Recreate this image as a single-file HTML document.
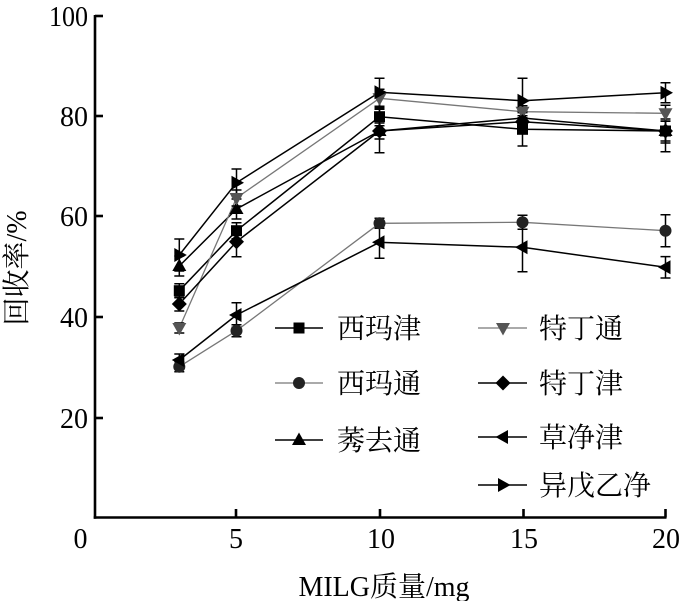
<!DOCTYPE html>
<html><head><meta charset="utf-8">
<style>
html,body{margin:0;padding:0;background:#fff;}
svg{display:block;}
text{font-family:"Liberation Serif","Noto Serif CJK SC",serif;fill:#000;}
</style></head>
<body>
<svg width="700" height="601" viewBox="0 0 700 601" xmlns="http://www.w3.org/2000/svg">
<defs>
<g id="sq"><rect x="-5.5" y="-5.5" width="11" height="11" fill="#000"/></g>
<g id="ci"><circle r="6" fill="#222"/></g>
<g id="tu"><polygon points="0,-7.5 7,5 -7,5" fill="#000"/></g>
<g id="td"><polygon points="0,7.5 7,-5 -7,-5" fill="#555"/></g>
<g id="di"><polygon points="0,-7.5 7.5,0 0,7.5 -7.5,0" fill="#000"/></g>
<g id="tl"><polygon points="-7.5,0 5,-7 5,7" fill="#000"/></g>
<g id="tr"><polygon points="7.5,0 -5,-7 -5,7" fill="#000"/></g>
</defs>

<!-- axes -->
<g stroke="#000" stroke-width="2.6" fill="none">
<line x1="95" y1="15" x2="95" y2="518.8"/>
<line x1="93.7" y1="517.5" x2="666.5" y2="517.5"/>
<line x1="95" y1="16" x2="103" y2="16"/>
<line x1="95" y1="116" x2="103" y2="116"/>
<line x1="95" y1="216" x2="103" y2="216"/>
<line x1="95" y1="317" x2="103" y2="317"/>
<line x1="95" y1="418" x2="103" y2="418"/>
<line x1="236" y1="517.5" x2="236" y2="509"/>
<line x1="380" y1="517.5" x2="380" y2="509"/>
<line x1="523.5" y1="517.5" x2="523.5" y2="509"/>
<line x1="665.5" y1="517.5" x2="665.5" y2="509"/>
</g>

<!-- y tick labels -->
<g font-size="28" text-anchor="end">
<text x="88" y="26" textLength="39" lengthAdjust="spacingAndGlyphs">100</text>
<text x="88" y="126">80</text>
<text x="88" y="226">60</text>
<text x="88" y="327">40</text>
<text x="88" y="428">20</text>
</g>
<!-- x tick labels -->
<g font-size="28" text-anchor="middle">
<text x="80.5" y="548">0</text>
<text x="236" y="548">5</text>
<text x="381" y="548">10</text>
<text x="524" y="548">15</text>
<text x="666" y="548">20</text>
</g>
<text x="384" y="596" font-size="28" text-anchor="middle">MILG质量/mg</text>
<text transform="translate(26,268) rotate(-90)" font-size="28" text-anchor="middle">回收率/%</text>

<!-- series lines -->
<g fill="none" stroke-linejoin="round">
<polyline stroke="#000" stroke-width="1.5" points="179.3,290.7 236.5,230.7 379.5,116.7 522.5,129.3 665.5,131"/>
<polyline stroke="#777" stroke-width="1.3" points="179.3,366.7 236.5,330.7 379.5,223.3 522.5,222.3 665.5,230.7"/>
<polyline stroke="#000" stroke-width="1.5" points="179.3,266 236.5,209 379.5,131 522.5,118 665.5,131"/>
<polyline stroke="#777" stroke-width="1.3" points="179.3,328 236.5,198 379.5,98.3 522.5,111.7 665.5,113.3"/>
<polyline stroke="#000" stroke-width="1.5" points="179.3,304 236.5,241.7 379.5,131 522.5,121.7 665.5,131"/>
<polyline stroke="#000" stroke-width="1.5" points="179.3,360 236.5,315 379.5,242.3 522.5,247.3 665.5,267.3"/>
<polyline stroke="#000" stroke-width="1.5" points="179.3,255 236.5,182.7 379.5,92.3 522.5,100.7 665.5,92.7"/>
</g>

<!-- error bars -->
<g stroke="#000" stroke-width="1.5" fill="none">
<path d="M179.3,283.7V297.7M174.3,283.7h10M174.3,297.7h10"/>
<path d="M179.3,361.7V371.7M174.3,361.7h10M174.3,371.7h10"/>
<path d="M179.3,256V276M174.3,256h10M174.3,276h10"/>
<path d="M179.3,323V333M174.3,323h10M174.3,333h10"/>
<path d="M179.3,297V311M174.3,297h10M174.3,311h10"/>
<path d="M179.3,354V366M174.3,354h10M174.3,366h10"/>
<path d="M179.3,239V271M174.3,239h10M174.3,271h10"/>
<path d="M236.5,222.7V238.7M231.5,222.7h10M231.5,238.7h10"/>
<path d="M236.5,324.7V336.7M231.5,324.7h10M231.5,336.7h10"/>
<path d="M236.5,199V219M231.5,199h10M231.5,219h10"/>
<path d="M236.5,190V206M231.5,190h10M231.5,206h10"/>
<path d="M236.5,226.7V256.7M231.5,226.7h10M231.5,256.7h10"/>
<path d="M236.5,302.7V327.3M231.5,302.7h10M231.5,327.3h10"/>
<path d="M236.5,169V196.4M231.5,169h10M231.5,196.4h10"/>
<path d="M379.5,107.7V125.7M374.5,107.7h10M374.5,125.7h10"/>
<path d="M379.5,218.3V228.3M374.5,218.3h10M374.5,228.3h10"/>
<path d="M379.5,123V139M374.5,123h10M374.5,139h10"/>
<path d="M379.5,89.3V107.3M374.5,89.3h10M374.5,107.3h10"/>
<path d="M379.5,109.3V152.7M374.5,109.3h10M374.5,152.7h10"/>
<path d="M379.5,226.3V258.3M374.5,226.3h10M374.5,258.3h10"/>
<path d="M379.5,78.3V106.3M374.5,78.3h10M374.5,106.3h10"/>
<path d="M522.5,112.6V146M517.5,112.6h10M517.5,146h10"/>
<path d="M522.5,215.3V229.3M517.5,215.3h10M517.5,229.3h10"/>
<path d="M522.5,111V125M517.5,111h10M517.5,125h10"/>
<path d="M522.5,105.7V117.7M517.5,105.7h10M517.5,117.7h10"/>
<path d="M522.5,115.7V127.7M517.5,115.7h10M517.5,127.7h10"/>
<path d="M522.5,222.9V271.7M517.5,222.9h10M517.5,271.7h10"/>
<path d="M522.5,78.3V123.1M517.5,78.3h10M517.5,123.1h10"/>
<path d="M665.5,119V143M660.5,119h10M660.5,143h10"/>
<path d="M665.5,214.7V246.7M660.5,214.7h10M660.5,246.7h10"/>
<path d="M665.5,121V141M660.5,121h10M660.5,141h10"/>
<path d="M665.5,105.3V121.3M660.5,105.3h10M660.5,121.3h10"/>
<path d="M665.5,110.3V151.7M660.5,110.3h10M660.5,151.7h10"/>
<path d="M665.5,256.6V278M660.5,256.6h10M660.5,278h10"/>
<path d="M665.5,82.7V102.7M660.5,82.7h10M660.5,102.7h10"/>
</g>

<!-- markers -->
<use href="#sq" x="179.3" y="290.7"/><use href="#sq" x="236.5" y="230.7"/><use href="#sq" x="379.5" y="116.7"/><use href="#sq" x="522.5" y="129.3"/><use href="#sq" x="665.5" y="131"/>
<use href="#ci" x="179.3" y="366.7"/><use href="#ci" x="236.5" y="330.7"/><use href="#ci" x="379.5" y="223.3"/><use href="#ci" x="522.5" y="222.3"/><use href="#ci" x="665.5" y="230.7"/>
<use href="#tu" x="179.3" y="266"/><use href="#tu" x="236.5" y="209"/><use href="#tu" x="379.5" y="131"/><use href="#tu" x="522.5" y="118"/><use href="#tu" x="665.5" y="131"/>
<use href="#td" x="179.3" y="328"/><use href="#td" x="236.5" y="198"/><use href="#td" x="379.5" y="98.3"/><use href="#td" x="522.5" y="111.7"/><use href="#td" x="665.5" y="113.3"/>
<use href="#di" x="179.3" y="304"/><use href="#di" x="236.5" y="241.7"/><use href="#di" x="379.5" y="131"/><use href="#di" x="522.5" y="121.7"/><use href="#di" x="665.5" y="131"/>
<use href="#tl" x="179.3" y="360"/><use href="#tl" x="236.5" y="315"/><use href="#tl" x="379.5" y="242.3"/><use href="#tl" x="522.5" y="247.3"/><use href="#tl" x="665.5" y="267.3"/>
<use href="#tr" x="179.3" y="255"/><use href="#tr" x="236.5" y="182.7"/><use href="#tr" x="379.5" y="92.3"/><use href="#tr" x="522.5" y="100.7"/><use href="#tr" x="665.5" y="92.7"/>

<!-- legend -->
<g fill="none">
<line x1="275" y1="328" x2="323" y2="328" stroke="#000" stroke-width="1.5"/>
<line x1="275" y1="383" x2="323" y2="383" stroke="#777" stroke-width="1.3"/>
<line x1="275" y1="440" x2="323" y2="440" stroke="#000" stroke-width="1.5"/>
<line x1="478" y1="328" x2="527" y2="328" stroke="#777" stroke-width="1.3"/>
<line x1="478" y1="383" x2="527" y2="383" stroke="#000" stroke-width="1.5"/>
<line x1="478" y1="437" x2="527" y2="437" stroke="#000" stroke-width="1.5"/>
<line x1="478" y1="485" x2="527" y2="485" stroke="#000" stroke-width="1.5"/>
</g>
<use href="#sq" x="299" y="328"/>
<use href="#ci" x="299" y="383"/>
<use href="#tu" x="299" y="440"/>
<use href="#td" x="503" y="328"/>
<use href="#di" x="503" y="383"/>
<use href="#tl" x="503" y="437"/>
<use href="#tr" x="503" y="485"/>
<g font-size="28">
<text x="337" y="338">西玛津</text>
<text x="337" y="393">西玛通</text>
<text x="337" y="450">莠去通</text>
<text x="539" y="338">特丁通</text>
<text x="539" y="393">特丁津</text>
<text x="539" y="447">草净津</text>
<text x="539" y="495">异戊乙净</text>
</g>
</svg>
</body></html>
